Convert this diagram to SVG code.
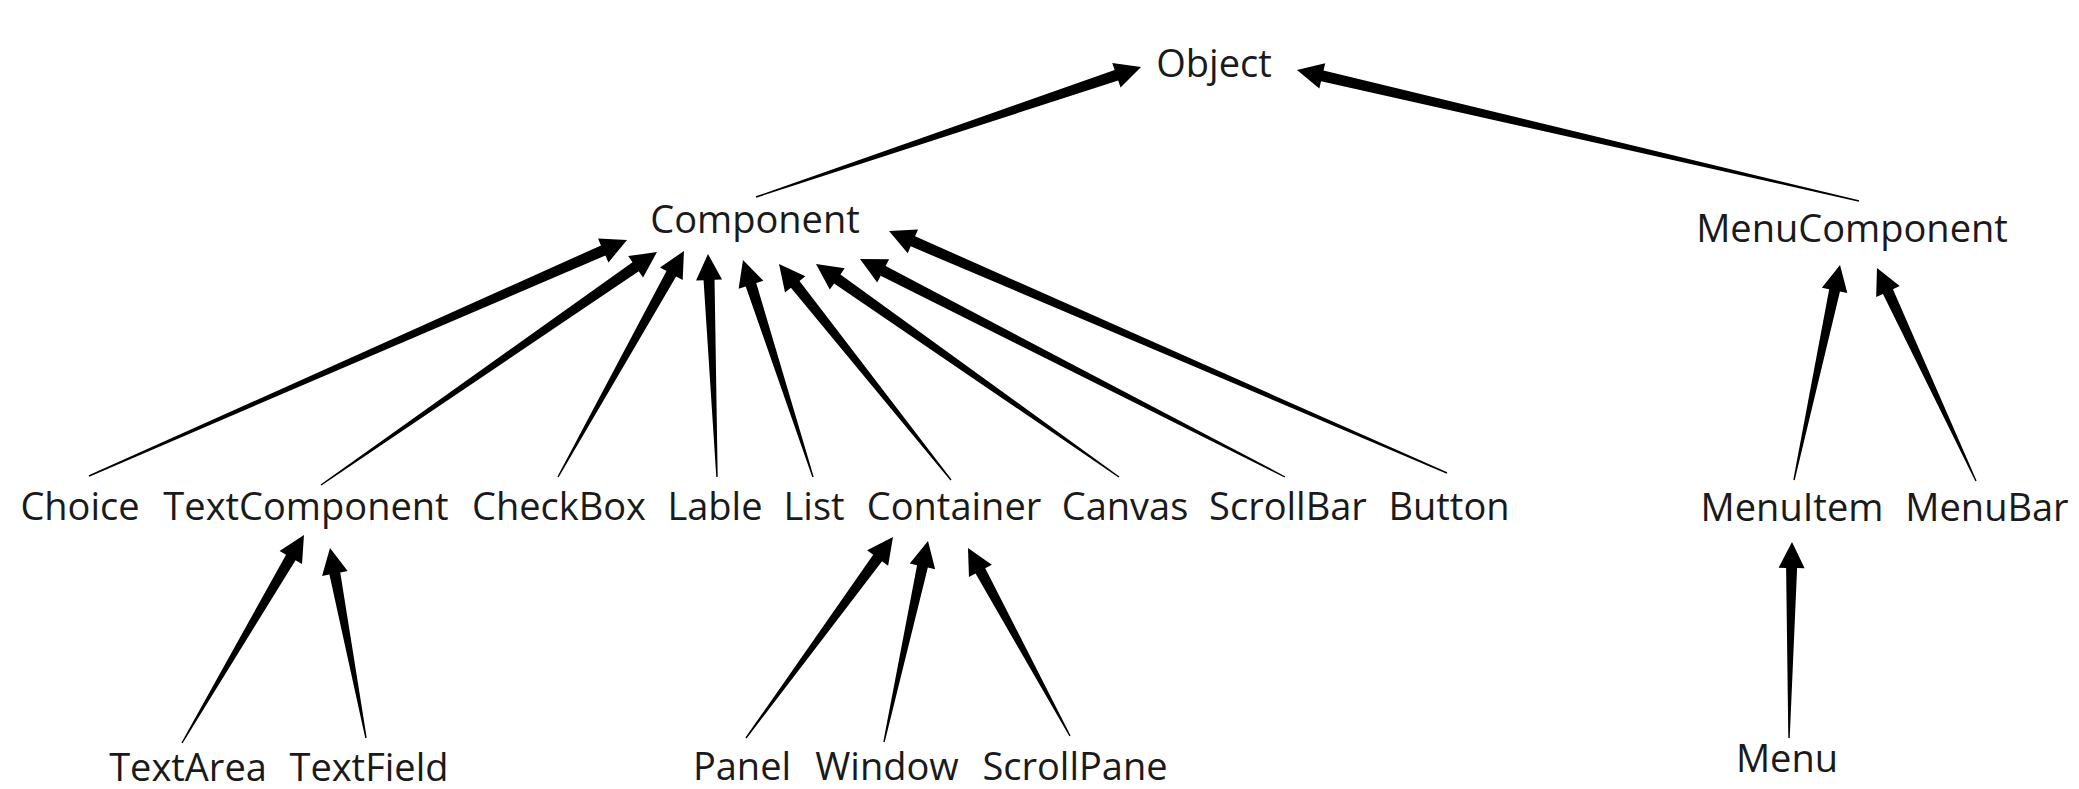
<svg xmlns="http://www.w3.org/2000/svg" width="2079" height="789" viewBox="0 0 2079 789">
<style>
text{font-family:"Open Sans","Liberation Sans",sans-serif;font-size:38px;fill:#1a1a1a;text-anchor:middle}
.arr{fill:#000}
</style>
<rect width="2079" height="789" fill="#fff"/>
<g id="connectors">
<g transform="translate(756,197) rotate(-18.66)"><polygon class="arr" points="0,-0.7 380.4,-5.5 380.4,-13 406.4,0 380.4,13 380.4,5.5 0,0.7"/></g>
<g transform="translate(1859,201) rotate(-166.88)"><polygon class="arr" points="0,-0.7 551.1,-5.5 551.1,-13 577.1,0 551.1,13 551.1,5.5 0,0.7"/></g>
<g transform="translate(89,476) rotate(-23.68)"><polygon class="arr" points="0,-0.7 561.5,-5.5 561.5,-13 587.5,0 561.5,13 561.5,5.5 0,0.7"/></g>
<g transform="translate(321,485) rotate(-34.74)"><polygon class="arr" points="0,-0.7 382.9,-5.5 382.9,-13 408.9,0 382.9,13 382.9,5.5 0,0.7"/></g>
<g transform="translate(558,477) rotate(-60.86)"><polygon class="arr" points="0,-0.7 232.7,-5.5 232.7,-13 258.7,0 232.7,13 232.7,5.5 0,0.7"/></g>
<g transform="translate(717,477) rotate(-92.31)"><polygon class="arr" points="0,-0.7 197.2,-5.5 197.2,-13 223.2,0 197.2,13 197.2,5.5 0,0.7"/></g>
<g transform="translate(813,477) rotate(-107.88)"><polygon class="arr" points="0,-0.7 202,-5.5 202,-13 228,0 202,13 202,5.5 0,0.7"/></g>
<g transform="translate(951,480) rotate(-128.53)"><polygon class="arr" points="0,-0.7 250.1,-5.5 250.1,-13 276.1,0 250.1,13 250.1,5.5 0,0.7"/></g>
<g transform="translate(1119,477) rotate(-144.89)"><polygon class="arr" points="0,-0.7 344.4,-5.5 344.4,-13 370.4,0 344.4,13 344.4,5.5 0,0.7"/></g>
<g transform="translate(1285,477) rotate(-152.85)"><polygon class="arr" points="0,-0.7 451.6,-5.5 451.6,-13 477.6,0 451.6,13 451.6,5.5 0,0.7"/></g>
<g transform="translate(1447,473) rotate(-156.55)"><polygon class="arr" points="0,-0.7 582.2,-5.5 582.2,-13 608.2,0 582.2,13 582.2,5.5 0,0.7"/></g>
<g transform="translate(1794,480) rotate(-77.92)"><polygon class="arr" points="0,-0.7 193.9,-5.5 193.9,-13 219.9,0 193.9,13 193.9,5.5 0,0.7"/></g>
<g transform="translate(1976,481) rotate(-114.93)"><polygon class="arr" points="0,-0.7 208.9,-5.5 208.9,-13 234.9,0 208.9,13 208.9,5.5 0,0.7"/></g>
<g transform="translate(182,743) rotate(-59.61)"><polygon class="arr" points="0,-0.7 215.1,-5.5 215.1,-13 241.1,0 215.1,13 215.1,5.5 0,0.7"/></g>
<g transform="translate(366,738) rotate(-100.73)"><polygon class="arr" points="0,-0.7 167.4,-5.5 167.4,-13 193.4,0 167.4,13 167.4,5.5 0,0.7"/></g>
<g transform="translate(746,738) rotate(-53.82)"><polygon class="arr" points="0,-0.7 223,-5.5 223,-13 249,0 223,13 223,5.5 0,0.7"/></g>
<g transform="translate(884,742) rotate(-77.65)"><polygon class="arr" points="0,-0.7 179.8,-5.5 179.8,-13 205.8,0 179.8,13 179.8,5.5 0,0.7"/></g>
<g transform="translate(1070,736) rotate(-118.48)"><polygon class="arr" points="0,-0.7 187.9,-5.5 187.9,-13 213.9,0 187.9,13 187.9,5.5 0,0.7"/></g>
<g transform="translate(1789,738) rotate(-89.12)"><polygon class="arr" points="0,-0.7 170,-5.5 170,-13 196,0 170,13 170,5.5 0,0.7"/></g>
</g>
<g id="object"><text x="1214" y="77">Object</text></g>
<g id="component"><text x="755" y="233">Component</text></g>
<g id="menucomponent"><text x="1852" y="242">MenuComponent</text></g>
<g id="choice"><text x="80" y="520">Choice</text></g>
<g id="textcomponent"><text x="306" y="520">TextComponent</text></g>
<g id="checkbox"><text x="559" y="520">CheckBox</text></g>
<g id="lable"><text x="715" y="520">Lable</text></g>
<g id="list"><text x="814" y="520">List</text></g>
<g id="container"><text x="954" y="520">Container</text></g>
<g id="canvas"><text x="1125" y="520">Canvas</text></g>
<g id="scrollbar"><text x="1288" y="520">ScrollBar</text></g>
<g id="button"><text x="1449" y="520">Button</text></g>
<g id="menuitem"><text x="1792" y="521">MenuItem</text></g>
<g id="menubar"><text x="1987" y="521">MenuBar</text></g>
<g id="textarea"><text x="188" y="781">TextArea</text></g>
<g id="textfield"><text x="369" y="781">TextField</text></g>
<g id="panel"><text x="742" y="780">Panel</text></g>
<g id="window"><text x="887" y="780">Window</text></g>
<g id="scrollpane"><text x="1075" y="780">ScrollPane</text></g>
<g id="menu"><text x="1787" y="772">Menu</text></g>
</svg>
